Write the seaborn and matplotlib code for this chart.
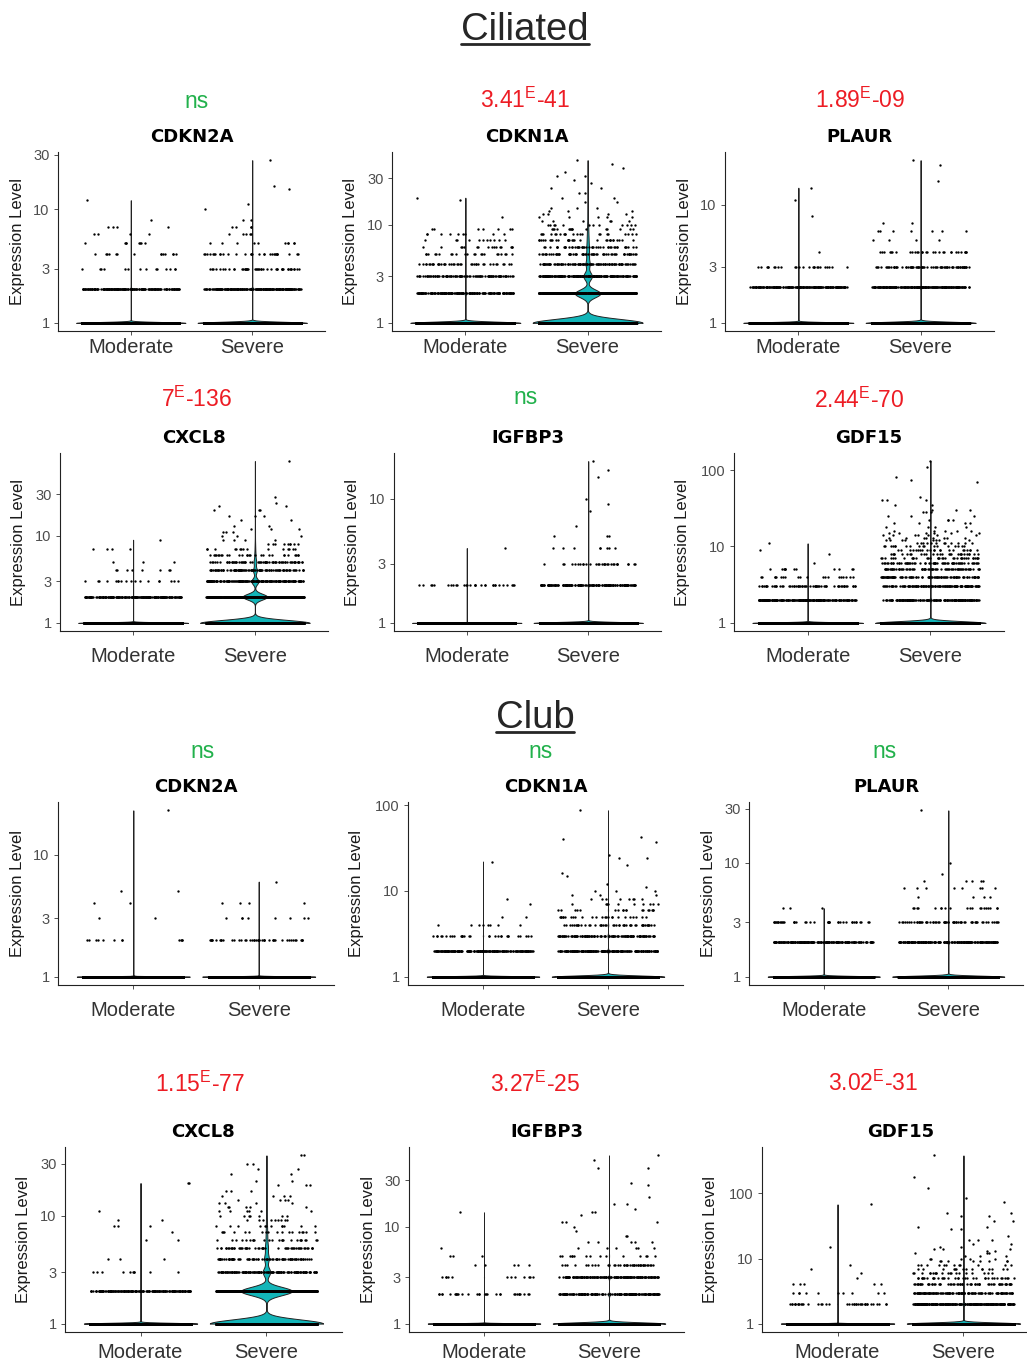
import numpy as np
import pandas as pd
import matplotlib
matplotlib.use("Agg")
import matplotlib.pyplot as plt
from matplotlib.lines import Line2D
from matplotlib.ticker import NullLocator
import seaborn as sns

# ---- data: (expression level, number of cells) ----
# Ciliated
cil_cdkn2a_mod = [(1, 10000), (2, 160), (3, 14), (4, 14), (5, 8), (6, 4), (7, 4), (8, 1), (12, 1)]
cil_cdkn2a_sev = [(1, 10000), (2, 190), (3, 45), (4, 30), (5, 10), (6, 5), (7, 4), (8, 2),
                  (10, 1), (11, 1), (15, 1), (16, 1), (27, 1)]
cil_cdkn1a_mod = [(1, 10000), (2, 170), (3, 90), (4, 40), (5, 22), (6, 16), (7, 11), (8, 9), (9, 7),
                  (12, 1), (18, 1), (19, 1)]
cil_cdkn1a_sev = [(1, 2600), (2, 600), (3, 200), (4, 95), (5, 60), (6, 45), (7, 30), (8, 22), (9, 15),
                  (10, 12), (11, 6), (12, 5), (13, 4), (14, 3), (15, 3), (17, 2), (19, 2), (21, 2),
                  (24, 2), (27, 1), (29, 1), (32, 2), (35, 1), (38, 1), (42, 1), (46, 1)]
cil_plaur_mod = [(1, 10000), (2, 170), (3, 25), (4, 1), (8, 1), (11, 1), (14, 1)]
cil_plaur_sev = [(1, 10000), (2, 190), (3, 70), (4, 30), (5, 4), (6, 7), (7, 2), (16, 1), (22, 1), (24, 1)]
cil_cxcl8_mod = [(1, 10000), (2, 180), (3, 18), (4, 8), (5, 3), (7, 4), (9, 1)]
cil_cxcl8_sev = [(1, 2800), (2, 620), (3, 180), (4, 95), (5, 65), (6, 28), (7, 15), (8, 9), (9, 4),
                 (10, 3), (11, 3), (12, 3), (13, 2), (15, 2), (17, 3), (20, 3), (22, 2), (24, 1),
                 (28, 1), (72, 1)]
cil_igfbp3_mod = [(1, 10000), (2, 30), (4, 1)]
cil_igfbp3_sev = [(1, 10000), (2, 150), (3, 30), (4, 8), (5, 3), (6, 1), (8, 1), (9, 1), (10, 1),
                  (15, 1), (17, 1), (20, 1)]
cil_gdf15_mod = [(1, 10000), (2, 200), (3, 60), (4, 20), (5, 12), (6, 1), (8, 1), (9, 1), (11, 1)]
cil_gdf15_sev = [(1, 10000), (2, 150), (3, 120), (4, 90), (5, 70), (6, 60), (7, 35), (8, 28), (9, 22),
                 (10, 18), (11, 12), (12, 8), (13, 8), (14, 7), (15, 6), (16, 5), (18, 4), (20, 4),
                 (22, 4), (25, 3), (28, 3), (30, 3), (35, 2), (40, 3), (45, 1), (70, 1), (75, 1),
                 (80, 1), (110, 1), (131, 1)]
# Club
club_cdkn2a_mod = [(1, 10000), (2, 12), (3, 2), (4, 2), (5, 2), (23, 1)]
club_cdkn2a_sev = [(1, 10000), (2, 45), (3, 8), (4, 4), (6, 1)]
club_cdkn1a_mod = [(1, 10000), (2, 170), (3, 30), (4, 8), (5, 2), (7, 1), (8, 1), (22, 1)]
club_cdkn1a_sev = [(1, 10000), (2, 180), (3, 110), (4, 45), (5, 25), (6, 18), (7, 10), (8, 8), (9, 3),
                   (10, 3), (11, 1), (12, 1), (15, 1), (16, 1), (20, 1), (24, 2), (26, 1), (37, 1),
                   (40, 1), (43, 1), (87, 1)]
club_plaur_mod = [(1, 10000), (2, 170), (3, 40), (4, 3)]
club_plaur_sev = [(1, 10000), (2, 180), (3, 60), (4, 20), (5, 4), (6, 8), (7, 5), (8, 1), (10, 1), (29, 1)]
club_cxcl8_mod = [(1, 10000), (2, 170), (3, 10), (4, 3), (6, 2), (7, 1), (8, 3), (9, 2), (11, 1), (20, 2)]
club_cxcl8_sev = [(1, 2000), (2, 900), (3, 130), (4, 80), (5, 50), (6, 25), (7, 18), (8, 12), (9, 9),
                  (10, 7), (11, 6), (12, 5), (13, 4), (14, 4), (15, 4), (17, 3), (19, 3), (21, 2),
                  (24, 2), (27, 2), (30, 2), (36, 2)]
club_igfbp3_mod = [(1, 10000), (2, 30), (3, 12), (4, 5), (5, 3), (6, 1), (14, 1)]
club_igfbp3_sev = [(1, 10000), (2, 170), (3, 150), (4, 40), (5, 15), (6, 6), (7, 5), (8, 2), (9, 1),
                   (10, 1), (11, 3), (13, 1), (14, 2), (15, 1), (17, 2), (20, 1), (27, 1), (28, 1),
                   (40, 2), (48, 1), (54, 1)]
club_gdf15_mod = [(1, 10000), (2, 40), (3, 10), (4, 5), (5, 1), (6, 1), (7, 1), (8, 1), (15, 1), (68, 1)]
club_gdf15_sev = [(1, 10000), (2, 250), (3, 120), (4, 60), (5, 35), (6, 20), (7, 15), (8, 12), (9, 8),
                  (10, 5), (11, 3), (12, 3), (13, 2), (14, 3), (15, 2), (17, 2), (19, 3), (22, 1),
                  (28, 2), (30, 2), (38, 2), (45, 2), (50, 2), (75, 1), (85, 1), (120, 1), (180, 1),
                  (384, 1)]

groups = ["Moderate", "Severe"]
genes = ["CDKN2A", "CDKN1A", "PLAUR", "CXCL8", "IGFBP3", "GDF15"]
cil_pvals = ["ns", r"3.41$^{\mathrm{E}}$-41", r"1.89$^{\mathrm{E}}$-09",
             r"7$^{\mathrm{E}}$-136", "ns", r"2.44$^{\mathrm{E}}$-70"]
club_pvals = ["ns", "ns", "ns",
              r"1.15$^{\mathrm{E}}$-77", r"3.27$^{\mathrm{E}}$-25", r"3.02$^{\mathrm{E}}$-31"]
cil_yticks = [[1, 3, 10, 30], [1, 3, 10, 30], [1, 3, 10], [1, 3, 10, 30], [1, 3, 10], [1, 10, 100]]
club_yticks = [[1, 3, 10], [1, 10, 100], [1, 3, 10, 30], [1, 3, 10, 30], [1, 3, 10, 30], [1, 10, 100]]

cil_data = [(cil_cdkn2a_mod, cil_cdkn2a_sev), (cil_cdkn1a_mod, cil_cdkn1a_sev),
            (cil_plaur_mod, cil_plaur_sev), (cil_cxcl8_mod, cil_cxcl8_sev),
            (cil_igfbp3_mod, cil_igfbp3_sev), (cil_gdf15_mod, cil_gdf15_sev)]
club_data = [(club_cdkn2a_mod, club_cdkn2a_sev), (club_cdkn1a_mod, club_cdkn1a_sev),
             (club_plaur_mod, club_plaur_sev), (club_cxcl8_mod, club_cxcl8_sev),
             (club_igfbp3_mod, club_igfbp3_sev), (club_gdf15_mod, club_gdf15_sev)]

# ---- layout (pixels, origin top-left) ----
W, H = 1027, 1368
boxes = [
    (58, 152, 325, 331), (392, 152, 661, 331), (725, 152, 994, 331),
    (60, 453, 328, 631), (394, 453, 661, 631), (734, 453, 1004, 631),
    (58, 802, 334, 985), (408, 802, 683, 985), (749, 802, 1023, 985),
    (65, 1147, 342, 1332), (409, 1147, 684, 1332), (762, 1147, 1039, 1332),
]
pval_pos = [(197, 108), (525, 108), (860, 108), (197, 407), (526, 404), (859, 408),
            (203, 758), (541, 758), (885, 758), (200, 1092), (535, 1092), (873, 1091)]
xtick_pad = [2.2, 8.6, 8.6, 5.0]

TEAL = "#13B5B8"
RED = "#ED1C24"
GREEN = "#22B14C"

sns.set_style("white")
plt.rcParams["font.family"] = ["Liberation Sans", "DejaVu Sans"]
plt.rcParams["mathtext.fontset"] = "custom"
plt.rcParams["mathtext.rm"] = "Liberation Sans"
np.random.seed(3)


def expand(pairs):
    vals = np.array([p[0] for p in pairs], dtype=float)
    cnts = np.array([p[1] for p in pairs])
    return np.repeat(vals, cnts)


def make_frame(mod, sev):
    m = expand(mod)
    s = expand(sev)
    return pd.DataFrame({"group": ["Moderate"] * len(m) + ["Severe"] * len(s),
                         "expr": np.concatenate([m, s])})


def fbox(l, t, r, b):
    return [l / W, 1 - b / H, (r - l) / W, (b - t) / H]


fig = plt.figure(figsize=(W / 100, H / 100), dpi=100)

all_data = cil_data + club_data
all_pvals = cil_pvals + club_pvals
all_ticks = cil_yticks + club_yticks
all_genes = genes + genes

for i, (mod, sev) in enumerate(all_data):
    row = i // 3
    l, t, r, b = boxes[i]
    ax = fig.add_axes(fbox(l, t, r, b))
    df = make_frame(mod, sev)

    sns.violinplot(data=df, x="group", y="expr", order=groups, color=TEAL, saturation=1,
                   log_scale=True, density_norm="width", cut=0, inner=None, width=0.9,
                   bw_adjust=0.8, gridsize=400, linewidth=0.7, linecolor="#222222", ax=ax)
    sns.stripplot(data=df, x="group", y="expr", order=groups, color="black", size=1.7,
                  jitter=0.4, linewidth=0, ax=ax)

    L = np.log10(df["expr"].max())
    ax.set_ylim(10 ** (-0.05 * L), 10 ** (1.05 * L))
    ax.set_xlim(-0.6, 1.6)

    ticks = all_ticks[i]
    ax.set_yticks(ticks)
    ax.set_yticklabels([str(v) for v in ticks])
    ax.yaxis.set_minor_locator(NullLocator())
    ax.set_xticks([0, 1])
    ax.set_xticklabels(groups)

    ax.tick_params(axis="y", length=3, width=0.6, pad=3, labelsize=10.5, labelcolor="#4D4D4D",
                   left=True, color="#333333")
    ax.tick_params(axis="x", length=3, width=0.6, pad=xtick_pad[row], labelsize=14.5,
                   labelcolor="#333333", bottom=True, color="#333333")

    ax.set_xlabel("")
    ax.set_ylabel("Expression Level", fontsize=12, color="#1A1A1A")
    off = -51 if max(ticks) >= 100 else -41
    ax.yaxis.label.set_va("center")
    ax.yaxis.set_label_coords(off / (r - l), 0.5)

    for side in ["top", "right"]:
        ax.spines[side].set_visible(False)
    for side in ["left", "bottom"]:
        ax.spines[side].set_color("#222222")
        ax.spines[side].set_linewidth(0.8)

    cx = (l + r) / 2
    fig.text(cx / W, 1 - (t - 10) / H, all_genes[i], ha="center", va="baseline",
             fontsize=13, fontweight="bold", family="DejaVu Sans", color="black")

    ptxt = all_pvals[i]
    px, py = pval_pos[i]
    fig.text(px / W, 1 - py / H, ptxt, ha="center", va="baseline", fontsize=16.5,
             color=GREEN if ptxt == "ns" else RED)

# section titles with underline
sections = [("Ciliated", 525, 40), ("Club", 535, 728)]
title_objs = []
for name, x, y in sections:
    tt = fig.text(x / W, 1 - y / H, name, ha="center", va="baseline", fontsize=27.5,
                  color="#262626")
    title_objs.append((tt, y))

fig.canvas.draw()
renderer = fig.canvas.get_renderer()
for tt, y in title_objs:
    bb = tt.get_window_extent(renderer=renderer)
    uy = 1 - (y + 4) / H
    fig.add_artist(Line2D([bb.x0 / W, bb.x1 / W], [uy, uy], color="#262626", linewidth=2.0,
                          transform=fig.transFigure))

fig.savefig("out.png", dpi=100)
